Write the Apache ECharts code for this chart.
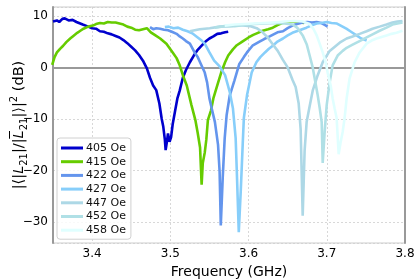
<!DOCTYPE html>
<html><head><meta charset="utf-8">
<script src="https://cdn.jsdelivr.net/npm/echarts@6/dist/echarts.min.js"></script>
<style>html,body{margin:0;padding:0;background:#fff}#c{width:420px;height:280px}</style>
</head><body><div id="c"></div>
<script>
const seriesNames = ['405 Oe','415 Oe','422 Oe','427 Oe','447 Oe','452 Oe','458 Oe'];
const seriesColors = ['#0000CD','#66CC00','#6495ED','#87CEFA','#ADD8E6','#B0E0E6','#E0FFFF'];

const f405 = [3.350,3.355,3.358,3.362,3.365,3.370,3.375,3.380,3.388,3.395,3.400,3.405,3.410,3.415,3.420,3.425,3.430,3.435,3.440,3.445,3.450,3.455,3.460,3.465,3.470,3.474,3.478,3.482,3.486,3.489,3.491,3.493,3.494,3.4955,3.497,3.499,3.501,3.503,3.506,3.509,3.512,3.516,3.520,3.525,3.530,3.535,3.540,3.545,3.550,3.555,3.560,3.565,3.570,3.574];
const db405 = [8.9,9.1,8.8,9.4,9.5,9.1,9.2,8.8,8.3,7.9,7.6,7.5,7.0,6.9,6.6,6.4,6.1,5.8,5.3,4.7,4.0,3.3,2.4,1.3,-0.2,-2.0,-3.5,-4.4,-7.0,-10.0,-11.5,-14.0,-16.0,-14.5,-12.8,-14.4,-13.5,-11.0,-8.5,-6.0,-4.5,-2.0,-0.5,1.0,2.3,3.4,4.2,5.0,5.6,6.0,6.5,6.6,6.8,6.9];

const f415 = [3.349,3.352,3.355,3.359,3.363,3.367,3.372,3.376,3.381,3.385,3.389,3.395,3.401,3.405,3.410,3.415,3.420,3.425,3.430,3.435,3.440,3.445,3.450,3.455,3.460,3.465,3.470,3.475,3.480,3.487,3.495,3.503,3.508,3.512,3.516,3.521,3.527,3.532,3.535,3.538,3.540,3.5415,3.544,3.546,3.548,3.552,3.555,3.560,3.565,3.570,3.574,3.580,3.585,3.592,3.600,3.606,3.612,3.618,3.625,3.631,3.637,3.643,3.650,3.655,3.660,3.666,3.671];
const db415 = [0.5,2.0,2.9,3.6,4.2,4.9,5.6,6.1,6.7,7.1,7.5,7.9,8.1,8.4,8.6,8.5,8.8,8.7,8.7,8.5,8.3,7.9,7.7,7.3,7.2,7.4,7.6,6.8,6.3,5.6,4.6,2.9,1.8,0.4,-1.5,-3.5,-7.3,-10.2,-12.7,-15.5,-22.7,-18.5,-16.5,-14.0,-10.2,-8.3,-6.0,-3.5,-1.0,1.0,2.3,3.5,4.3,5.0,5.8,6.3,6.7,7.1,7.4,7.7,8.2,8.6,8.7,8.9,8.8,8.7,8.6];

const f422 = [3.474,3.478,3.482,3.487,3.492,3.497,3.502,3.508,3.512,3.516,3.520,3.525,3.531,3.535,3.538,3.544,3.547,3.550,3.553,3.557,3.561,3.563,3.5645,3.567,3.5695,3.572,3.576,3.582,3.588,3.594,3.598,3.605,3.614,3.620,3.627,3.632,3.637,3.644,3.650,3.656,3.662,3.669,3.675,3.681,3.687,3.693,3.698,3.701];
const db422 = [7.8,7.4,7.6,7.5,7.3,7.2,6.9,6.5,6.0,5.6,5.1,4.6,2.9,2.0,1.0,-1.0,-2.9,-6.0,-8.0,-10.6,-15.0,-20.2,-30.6,-21.3,-13.7,-9.2,-5.4,-2.5,0.6,2.0,2.9,4.2,5.0,5.5,6.0,6.4,6.8,7.0,7.6,8.1,8.4,8.7,8.8,8.7,8.8,8.6,8.2,7.9];

const f427 = [3.493,3.498,3.504,3.510,3.516,3.522,3.528,3.535,3.540,3.544,3.550,3.556,3.563,3.570,3.576,3.580,3.5835,3.585,3.5875,3.590,3.5925,3.594,3.598,3.604,3.610,3.615,3.621,3.626,3.631,3.637,3.644,3.650,3.656,3.665,3.674,3.680,3.687,3.693,3.700,3.706,3.713,3.719,3.725,3.731,3.738,3.744,3.751];
const db427 = [7.8,7.9,7.6,7.7,7.3,7.0,6.6,5.8,5.2,4.6,2.9,1.3,0.2,-1.5,-4.8,-7.9,-13.7,-20.2,-31.9,-24.0,-15.0,-9.8,-5.4,-1.0,1.0,2.0,2.9,3.6,4.2,5.0,5.6,6.2,6.7,7.2,7.7,8.1,8.5,8.6,8.8,8.6,8.5,8.0,7.5,6.9,6.2,5.6,5.2];

const f447 = [3.5248,3.5376,3.5503,3.5631,3.5759,3.5887,3.6015,3.6104,3.618,3.6245,3.6309,3.6373,3.6437,3.650,3.6564,3.6602,3.6641,3.6666,3.6692,3.6717,3.6743,3.6781,3.682,3.6884,3.6948,3.7037,3.7165,3.7254,3.733,3.742,3.7509,3.7585,3.7675,3.7764,3.784,3.7904,3.7968];
const db447 = [7.0,7.4,7.6,7.9,8.0,8.2,8.0,7.6,6.8,5.8,4.5,3.2,1.5,0.0,-2.5,-3.8,-7.0,-12.0,-28.7,-16.0,-10.5,-7.5,-4.5,-1.5,1.0,3.2,4.8,5.6,6.0,6.5,7.0,7.5,7.9,8.3,8.7,8.9,9.0];

const f452 = [3.5567,3.5695,3.5823,3.5950,3.6078,3.6206,3.6333,3.6461,3.6564,3.6628,3.6692,3.6743,3.6781,3.682,3.6845,3.6884,3.6909,3.6935,3.6948,3.6973,3.6999,3.7037,3.7075,3.7139,3.7203,3.7254,3.7318,3.7381,3.7445,3.7509,3.7585,3.7675,3.7764,3.784,3.7904,3.7968];
const db452 = [7.7,8.0,8.0,8.2,8.4,8.5,8.6,8.5,8.3,7.6,6.2,4.5,2.3,0.0,-2.1,-5.4,-7.8,-10.6,-18.5,-12.5,-7.3,-2.9,0.4,2.3,3.2,3.8,4.3,4.8,5.3,5.8,6.4,7.1,7.7,8.3,8.5,8.7];

const f458 = [3.5695,3.5823,3.595,3.6078,3.6206,3.6333,3.6461,3.6589,3.6692,3.6781,3.6832,3.6871,3.6909,3.6948,3.6986,3.7011,3.705,3.7075,3.7101,3.7126,3.7152,3.7177,3.7203,3.7228,3.7254,3.7292,3.7356,3.742,3.7509,3.7573,3.7637,3.77,3.7764,3.7828,3.7892,3.7968];
const db458 = [8.1,8.3,8.4,8.5,8.6,8.7,8.9,9.0,8.9,8.4,7.4,6.2,4.6,2.9,1.0,-1.0,-3.5,-6.0,-8.0,-9.8,-16.8,-14.5,-12.5,-9.8,-6.0,-2.1,1.0,2.9,4.6,5.2,5.6,5.9,6.2,6.5,6.7,7.1];

const xTickLabels = ['3.4','3.5','3.6','3.7','3.8'];
const yTickLabels = ['−30','−20','−10','0','10'];
const yTitle = '{t|\u007C\u27E8\u007C}{i|L}{s|21}{t|\u007C/\u007C}{i|L\u0305}{s|21}{t|\u007C\u27E9\u007C}{p|2}{t| (dB)}';

const freqs = [f405,f415,f422,f427,f447,f452,f458];
const vals = [db405,db415,db422,db427,db447,db452,db458];

const FONT = 'DejaVu Sans';
const chart = echarts.init(document.getElementById('c'), null, {renderer:'canvas'});
const series = seriesNames.map((n,i)=>({
  name:n, type:'line', symbol:'none', showSymbol:false,
  data: freqs[i].map((f,j)=>[f, vals[i][j]]),
  lineStyle:{color:seriesColors[i], width:2.6},
  itemStyle:{color:seriesColors[i]},
  yAxisIndex:0
}));
chart.setOption({
  animation:false,
  backgroundColor:'#fff',
  textStyle:{fontFamily:FONT},
  grid:{left:53,right:15,top:7,bottom:37,show:true,borderColor:'#cccccc',borderWidth:1,containLabel:false,outerBoundsMode:'none'},
  legend:{
    orient:'vertical', left:57, top:138,
    data:seriesNames,
    icon:'rect', itemWidth:22, itemHeight:3, itemGap:1.7,
    textStyle:{fontFamily:FONT,fontSize:11,color:'#111',lineHeight:12,padding:[0,0,0,-2]},
    backgroundColor:'rgba(255,255,255,0.85)', borderColor:'#d0d0d0', borderWidth:1, borderRadius:3,
    padding:[4,5,3,4]
  },
  graphic:[{
    type:'text', x:19, y:125, rotation:Math.PI/2, z:100,
    style:{
      text:yTitle, align:'center', verticalAlign:'middle',
      fontFamily:FONT, fontSize:14.5, fill:'#000',
      rich:{
        t:{fontFamily:FONT,fontSize:14.5,fill:'#000',lineHeight:20},
        i:{fontFamily:FONT,fontSize:14.5,fontStyle:'italic',fill:'#000',lineHeight:20},
        s:{fontFamily:FONT,fontSize:10,fill:'#000',lineHeight:11,verticalAlign:'bottom'},
        p:{fontFamily:FONT,fontSize:10,fill:'#000',lineHeight:11,verticalAlign:'top'}
      }
    }
  }],
  xAxis:{
    type:'value', min:3.35, max:3.8, splitNumber:5,
    axisLine:{show:true,lineStyle:{color:'#999',width:2}},
    axisTick:{show:false},
    axisLabel:{showMinLabel:false,color:'#000',fontSize:12,fontFamily:FONT,margin:5,
      formatter:v=>{const k=xTickLabels.indexOf(v.toFixed(1));return k>=0?xTickLabels[k]:'';}},
    splitLine:{show:true,lineStyle:{color:'#cfcfcf',type:[2,2],width:0.8}},
    name:'Frequency (GHz)', nameLocation:'middle', nameGap:15,
    nameTextStyle:{fontFamily:FONT,fontSize:14,color:'#000'}
  },
  yAxis:[{
    type:'value', min:-34, max:11.7, splitNumber:5,
    axisLine:{show:true,lineStyle:{color:'#999',width:2}},
    axisTick:{show:false},
    axisLabel:{show:true,showMinLabel:false,showMaxLabel:false,color:'#000',fontSize:12,fontFamily:FONT,margin:5,
      formatter:v=>{const s=String(Math.round(v)).replace('-','−');return yTickLabels.indexOf(s)>=0?s:'';}},
    splitLine:{show:true,lineStyle:{color:'#cfcfcf',type:[2,2],width:0.8}},
    name:'.', nameLocation:'middle', nameGap:40,
    nameTextStyle:{fontSize:6,color:'rgba(255,255,255,0)'}
  },{
    type:'value', position:'right', min:-34, max:11.7,
    axisLine:{show:true,lineStyle:{color:'#999',width:2}},
    axisTick:{show:false}, axisLabel:{show:false}, splitLine:{show:false}
  }],
  series: series
});
</script></body></html>
